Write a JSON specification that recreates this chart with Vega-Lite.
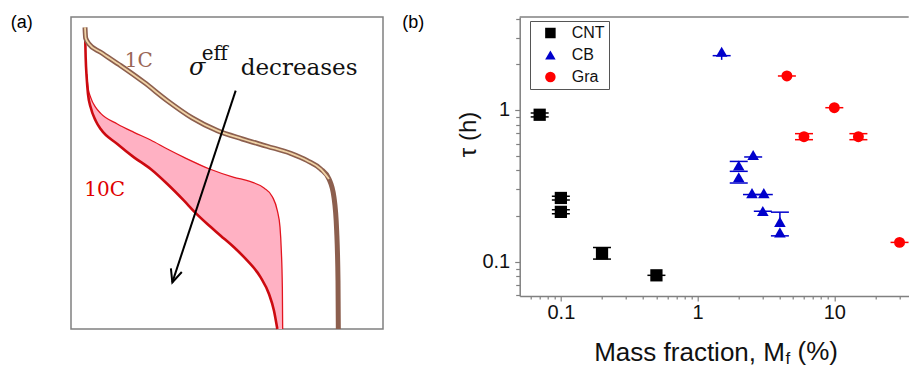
{
  "$schema": "https://vega.github.io/schema/vega-lite/v6.json",
  "background": "white",
  "padding": {"left": 10, "top": 13, "right": 0, "bottom": 0},
  "bounds": "flush",
  "spacing": 136.7,
  "resolve": {"scale": {"color": "independent", "shape": "independent", "fill": "independent", "stroke": "independent", "size": "independent"}},
  "config": {"view": {"stroke": null}, "axis": {"grid": false}},
  "datasets": {
    "curves": [
      {"c": "b", "i": 0, "u": 4.49, "v": 96.69},
      {"c": "b", "i": 1, "u": 4.70, "v": 93.27},
      {"c": "b", "i": 2, "u": 5.77, "v": 91.35},
      {"c": "b", "i": 3, "u": 9.51, "v": 88.68},
      {"c": "b", "i": 4, "u": 15.92, "v": 84.40},
      {"c": "b", "i": 5, "u": 23.40, "v": 79.06},
      {"c": "b", "i": 6, "u": 30.88, "v": 73.18},
      {"c": "b", "i": 7, "u": 38.89, "v": 67.63},
      {"c": "b", "i": 8, "u": 46.90, "v": 63.57},
      {"c": "b", "i": 9, "u": 54.91, "v": 60.90},
      {"c": "b", "i": 10, "u": 62.93, "v": 58.55},
      {"c": "b", "i": 11, "u": 70.41, "v": 56.30},
      {"c": "b", "i": 12, "u": 75.75, "v": 53.95},
      {"c": "b", "i": 13, "u": 80.02, "v": 51.28},
      {"c": "b", "i": 14, "u": 82.69, "v": 48.08},
      {"c": "b", "i": 15, "u": 84.29, "v": 42.20},
      {"c": "b", "i": 16, "u": 85.15, "v": 31.52},
      {"c": "b", "i": 17, "u": 85.58, "v": 15.49},
      {"c": "b", "i": 18, "u": 85.68, "v": 0},
      {"c": "r", "i": 0, "u": 4.49, "v": 96.15},
      {"c": "r", "i": 1, "u": 4.70, "v": 87.07},
      {"c": "r", "i": 2, "u": 5.02, "v": 80.66},
      {"c": "r", "i": 3, "u": 5.45, "v": 75.32},
      {"c": "r", "i": 4, "u": 6.30, "v": 71.05},
      {"c": "r", "i": 5, "u": 7.91, "v": 66.77},
      {"c": "r", "i": 6, "u": 9.51, "v": 64.10},
      {"c": "r", "i": 7, "u": 14.85, "v": 59.29},
      {"c": "r", "i": 8, "u": 20.19, "v": 55.02},
      {"c": "r", "i": 9, "u": 25.53, "v": 51.28},
      {"c": "r", "i": 10, "u": 30.88, "v": 46.47},
      {"c": "r", "i": 11, "u": 36.22, "v": 41.13},
      {"c": "r", "i": 12, "u": 39.74, "v": 37.39},
      {"c": "r", "i": 13, "u": 43.70, "v": 33.65},
      {"c": "r", "i": 14, "u": 47.97, "v": 29.91},
      {"c": "r", "i": 15, "u": 52.24, "v": 26.18},
      {"c": "r", "i": 16, "u": 56.52, "v": 21.90},
      {"c": "r", "i": 17, "u": 60.79, "v": 16.56},
      {"c": "r", "i": 18, "u": 63.46, "v": 11.22},
      {"c": "r", "i": 19, "u": 65.06, "v": 5.88},
      {"c": "r", "i": 20, "u": 66.13, "v": 0},
      {"c": "t", "i": 0, "u": 5.02, "v": 81.73},
      {"c": "t", "i": 1, "u": 5.45, "v": 77.46},
      {"c": "t", "i": 2, "u": 6.30, "v": 74.25},
      {"c": "t", "i": 3, "u": 7.91, "v": 71.05},
      {"c": "t", "i": 4, "u": 9.51, "v": 69.12},
      {"c": "t", "i": 5, "u": 14.85, "v": 65.71},
      {"c": "t", "i": 6, "u": 20.19, "v": 63.03},
      {"c": "t", "i": 7, "u": 25.53, "v": 60.58},
      {"c": "t", "i": 8, "u": 30.88, "v": 57.69},
      {"c": "t", "i": 9, "u": 36.22, "v": 55.02},
      {"c": "t", "i": 10, "u": 44.44, "v": 51.28},
      {"c": "t", "i": 11, "u": 52.24, "v": 48.61},
      {"c": "t", "i": 12, "u": 57.59, "v": 47.22},
      {"c": "t", "i": 13, "u": 61.86, "v": 45.19},
      {"c": "t", "i": 14, "u": 64.53, "v": 42.41},
      {"c": "t", "i": 15, "u": 66.13, "v": 37.93},
      {"c": "t", "i": 16, "u": 66.99, "v": 32.59},
      {"c": "t", "i": 17, "u": 67.41, "v": 25.11},
      {"c": "t", "i": 18, "u": 67.74, "v": 13.35},
      {"c": "t", "i": 19, "u": 67.84, "v": 0}
    ],
    "band": [
      {"u": 5.02, "top": 81.73, "bot": 80.9},
      {"u": 5.45, "top": 77.46, "bot": 75.32},
      {"u": 6.30, "top": 74.25, "bot": 71.05},
      {"u": 7.91, "top": 71.05, "bot": 66.77},
      {"u": 9.51, "top": 69.12, "bot": 64.10},
      {"u": 14.85, "top": 65.71, "bot": 59.29},
      {"u": 20.19, "top": 63.03, "bot": 55.02},
      {"u": 25.53, "top": 60.58, "bot": 51.28},
      {"u": 30.88, "top": 57.69, "bot": 46.47},
      {"u": 36.22, "top": 55.02, "bot": 41.13},
      {"u": 39.74, "top": 53.6, "bot": 37.39},
      {"u": 44.44, "top": 51.28, "bot": 32.8},
      {"u": 47.97, "top": 50.0, "bot": 29.91},
      {"u": 52.24, "top": 48.61, "bot": 26.18},
      {"u": 56.52, "top": 47.5, "bot": 21.90},
      {"u": 60.79, "top": 45.7, "bot": 16.56},
      {"u": 63.46, "top": 43.6, "bot": 11.22},
      {"u": 65.06, "top": 41.6, "bot": 5.88},
      {"u": 66.13, "top": 37.93, "bot": 0},
      {"u": 66.99, "top": 32.59, "bot": 0},
      {"u": 67.41, "top": 25.11, "bot": 0},
      {"u": 67.74, "top": 13.35, "bot": 0},
      {"u": 67.84, "top": 0, "bot": 0}
    ],
    "arrow": [{"u": 52.78, "v": 76.39, "u2": 32.48, "v2": 14.96}],
    "txtA": [
      {"t": "(a)", "u": -19.3, "v": 96.4},
      {"t": "(b)", "u": 106.2, "v": 96.4},
      {"t": "1C", "u": 21.7, "v": 84.1},
      {"t": "10C", "u": 10.8, "v": 42.5},
      {"t": "σ", "u": 37.8, "v": 81.3},
      {"t": "eff", "u": 41.9, "v": 86.3},
      {"t": "decreases", "u": 54.4, "v": 81.3}
    ],
    "pts": [
      {"m": "CNT", "x": 0.07, "y": 0.93, "ylo": 0.9, "yhi": 0.955, "c1": 0.9, "c2": 0.955},
      {"m": "CNT", "x": 0.1, "y": 0.263, "ylo": 0.255, "yhi": 0.27, "c1": 0.255, "c2": 0.27},
      {"m": "CNT", "x": 0.1, "y": 0.213, "ylo": 0.207, "yhi": 0.22, "c1": 0.207, "c2": 0.22},
      {"m": "CNT", "x": 0.2, "y": 0.1135, "ylo": 0.104, "yhi": 0.124, "c1": 0.104, "c2": 0.124},
      {"m": "CNT", "x": 0.5, "y": 0.0813, "c1": 0.0813},
      {"m": "CB", "x": 1.5, "y": 2.42, "ylo": 2.14, "yhi": 2.42, "c1": 2.28},
      {"m": "CB", "x": 2.55, "y": 0.505, "c1": 0.49},
      {"m": "CB", "x": 2.0, "y": 0.43, "c1": 0.458},
      {"m": "CB", "x": 2.0, "y": 0.36, "c1": 0.394, "c2": 0.33},
      {"m": "CB", "x": 2.5, "y": 0.283, "c1": 0.277},
      {"m": "CB", "x": 3.05, "y": 0.283, "c1": 0.277},
      {"m": "CB", "x": 3.0, "y": 0.216, "c1": 0.215},
      {"m": "CB", "x": 4.0, "y": 0.183, "ylo": 0.183, "yhi": 0.212, "c2": 0.212},
      {"m": "CB", "x": 4.0, "y": 0.156, "c1": 0.148},
      {"m": "Gra", "x": 4.5, "y": 1.675, "c1": 1.675},
      {"m": "Gra", "x": 10, "y": 1.035, "c1": 1.035},
      {"m": "Gra", "x": 6, "y": 0.667, "c1": 0.698, "c2": 0.637},
      {"m": "Gra", "x": 15, "y": 0.667, "c1": 0.698, "c2": 0.637},
      {"m": "Gra", "x": 30, "y": 0.134, "c1": 0.134}
    ],
    "txtB": [
      {"t": "f", "x": 4.40, "y": 0.02125},
      {"t": "(%)", "x": 5.38, "y": 0.0226}
    ],
    "edge": [{"top": 4.1}]
  },
  "hconcat": [
    {
      "width": 312,
      "height": 312,
      "view": {"stroke": "#808080", "strokeWidth": 1.5},
      "encoding": {
        "x": {"field": "u", "type": "quantitative", "scale": {"domain": [0, 100], "nice": false, "zero": false}, "axis": null},
        "y": {"field": "v", "type": "quantitative", "scale": {"domain": [0, 100], "nice": false, "zero": false}, "axis": null}
      },
      "layer": [
        {
          "data": {"name": "band"},
          "mark": {"type": "area", "interpolate": "monotone", "color": "#ffb1c3", "opacity": 1},
          "encoding": {
            "y": {"field": "top", "type": "quantitative", "scale": {"domain": [0, 100], "nice": false, "zero": false}, "axis": null},
            "y2": {"field": "bot"}
          }
        },
        {
          "data": {"name": "curves"},
          "transform": [{"filter": "datum.c === 't'"}],
          "mark": {"type": "line", "interpolate": "monotone", "color": "#e3151f", "strokeWidth": 1.3},
          "encoding": {"order": {"field": "i", "type": "quantitative"}}
        },
        {
          "data": {"name": "curves"},
          "transform": [{"filter": "datum.c === 'r'"}],
          "mark": {"type": "line", "interpolate": "monotone", "color": "#cc0a10", "strokeWidth": 2.6},
          "encoding": {"order": {"field": "i", "type": "quantitative"}}
        },
        {
          "data": {"name": "curves"},
          "transform": [{"filter": "datum.c === 'b'"}],
          "mark": {"type": "line", "interpolate": "monotone", "color": "#8c5f4e", "strokeWidth": 5},
          "encoding": {"order": {"field": "i", "type": "quantitative"}}
        },
        {
          "data": {"name": "curves"},
          "transform": [{"filter": "datum.c === 'b' && datum.i < 15"}],
          "mark": {"type": "line", "interpolate": "monotone", "color": "#f0d3a6", "strokeWidth": 1.8},
          "encoding": {"order": {"field": "i", "type": "quantitative"}}
        },
        {
          "data": {"name": "arrow"},
          "mark": {"type": "rule", "color": "black", "strokeWidth": 2},
          "encoding": {"x2": {"field": "u2"}, "y2": {"field": "v2"}}
        },
        {
          "data": {"name": "arrow"},
          "mark": {"type": "point", "shape": "M -0.45 1 L 0 0 L 0.45 1", "filled": false, "stroke": "black", "strokeWidth": 2, "size": 650, "angle": 198.3, "opacity": 1},
          "encoding": {
            "x": {"field": "u2", "type": "quantitative", "scale": {"domain": [0, 100], "nice": false, "zero": false}, "axis": null},
            "y": {"field": "v2", "type": "quantitative", "scale": {"domain": [0, 100], "nice": false, "zero": false}, "axis": null}
          }
        },
        {
          "data": {"name": "txtA"},
          "transform": [{"filter": "datum.t === '(a)' || datum.t === '(b)'"}],
          "mark": {"type": "text", "font": "Liberation Sans", "fontSize": 18, "align": "left", "baseline": "alphabetic", "color": "black"},
          "encoding": {"text": {"field": "t"}}
        },
        {
          "data": {"name": "txtA"},
          "transform": [{"filter": "datum.t === '1C'"}],
          "mark": {"type": "text", "font": "DejaVu Serif", "fontSize": 20, "align": "center", "baseline": "alphabetic", "color": "#9a6656"},
          "encoding": {"text": {"field": "t"}}
        },
        {
          "data": {"name": "txtA"},
          "transform": [{"filter": "datum.t === '10C'"}],
          "mark": {"type": "text", "font": "DejaVu Serif", "fontSize": 20, "align": "center", "baseline": "alphabetic", "color": "#e00000"},
          "encoding": {"text": {"field": "t"}}
        },
        {
          "data": {"name": "txtA"},
          "transform": [{"filter": "datum.t === 'σ'"}],
          "mark": {"type": "text", "font": "DejaVu Serif", "fontSize": 24, "fontStyle": "italic", "align": "left", "baseline": "alphabetic", "color": "#111111"},
          "encoding": {"text": {"field": "t"}}
        },
        {
          "data": {"name": "txtA"},
          "transform": [{"filter": "datum.t === 'eff'"}],
          "mark": {"type": "text", "font": "DejaVu Serif", "fontSize": 20, "align": "left", "baseline": "alphabetic", "color": "#111111"},
          "encoding": {"text": {"field": "t"}}
        },
        {
          "data": {"name": "txtA"},
          "transform": [{"filter": "datum.t === 'decreases'"}],
          "mark": {"type": "text", "font": "DejaVu Serif", "fontSize": 23, "align": "left", "baseline": "alphabetic", "color": "#111111"},
          "encoding": {"text": {"field": "t"}}
        }
      ]
    },
    {
      "width": 389,
      "height": 279,
      "view": {"stroke": null},
      "data": {"name": "pts"},
      "layer": [
        {
          "transform": [{"filter": "isValid(datum.ylo)"}],
          "mark": {"type": "rule", "strokeWidth": 1.5},
          "encoding": {
            "x": {"field": "x", "type": "quantitative", "scale": {"type": "log", "domain": [0.05, 35], "nice": false}},
            "y": {"field": "ylo", "type": "quantitative", "scale": {"type": "log", "domain": [0.0594, 4.1], "nice": false}},
            "y2": {"field": "yhi"},
            "stroke": {"field": "m", "type": "nominal", "scale": {"domain": ["Gra", "CB", "CNT"], "range": ["#ff0000", "#0000cc", "#000000"]}, "legend": null}
          }
        },
        {
          "transform": [{"filter": "isValid(datum.c1)"}],
          "mark": {"type": "tick", "orient": "horizontal", "size": 18, "thickness": 1.5, "opacity": 1},
          "encoding": {
            "x": {"field": "x", "type": "quantitative", "scale": {"type": "log", "domain": [0.05, 35], "nice": false}},
            "y": {"field": "c1", "type": "quantitative", "scale": {"type": "log", "domain": [0.0594, 4.1], "nice": false}},
            "fill": {"field": "m", "type": "nominal", "scale": {"domain": ["Gra", "CB", "CNT"], "range": ["#ff0000", "#0000cc", "#000000"]}, "legend": null}
          }
        },
        {
          "transform": [{"filter": "isValid(datum.c2)"}],
          "mark": {"type": "tick", "orient": "horizontal", "size": 18, "thickness": 1.5, "opacity": 1},
          "encoding": {
            "x": {"field": "x", "type": "quantitative", "scale": {"type": "log", "domain": [0.05, 35], "nice": false}},
            "y": {"field": "c2", "type": "quantitative", "scale": {"type": "log", "domain": [0.0594, 4.1], "nice": false}},
            "fill": {"field": "m", "type": "nominal", "scale": {"domain": ["Gra", "CB", "CNT"], "range": ["#ff0000", "#0000cc", "#000000"]}, "legend": null}
          }
        },
        {
          "mark": {"type": "point", "filled": true, "opacity": 1},
          "encoding": {
            "x": {
              "field": "x", "type": "quantitative",
              "scale": {"type": "log", "domain": [0.05, 35], "nice": false},
              "axis": {
                "values": [0.06, 0.07, 0.08, 0.09, 0.1, 0.2, 0.3, 0.4, 0.5, 0.6, 0.7, 0.8, 0.9, 1, 2, 3, 4, 5, 6, 7, 8, 9, 10, 20, 30],
                "labelExpr": "datum.value == 0.1 ? '0.1' : datum.value == 1 ? '1' : datum.value == 10 ? '10' : ''",
                "labelFont": "Liberation Sans", "labelColor": "#111111", "labelPadding": 1,
                "labelFontSize": {"condition": {"test": "datum.value == 0.1 || datum.value == 1 || datum.value == 10", "value": 20}, "value": 0},
                "labelOverlap": false, "labelFlush": false, "labelBound": false,
                "tickSize": {"condition": {"test": "datum.value == 0.1 || datum.value == 1 || datum.value == 10", "value": 5}, "value": 3},
                "tickColor": "#808080", "tickWidth": 1.2,
                "domainColor": "#808080", "domainWidth": 1.5,
                "title": "Mass fraction, M", "titleFont": "Liberation Sans", "titleFontSize": 26, "titleFontWeight": "normal",
                "titleColor": "#111111", "titleAlign": "left", "titleBaseline": "alphabetic", "titleX": 74, "titleY": 64
              }
            },
            "y": {
              "field": "y", "type": "quantitative",
              "scale": {"type": "log", "domain": [0.0594, 4.1], "nice": false},
              "axis": {
                "values": [0.06, 0.07, 0.08, 0.09, 0.1, 0.2, 0.3, 0.4, 0.5, 0.6, 0.7, 0.8, 0.9, 1, 2, 3, 4],
                "labelExpr": "datum.value == 0.1 ? '0.1' : datum.value == 1 ? '1' : ''",
                "labelFont": "Liberation Sans", "labelColor": "#111111", "labelPadding": 5,
                "labelFontSize": {"condition": {"test": "datum.value == 0.1 || datum.value == 1", "value": 20}, "value": 0},
                "labelOverlap": false, "labelFlush": false, "labelBound": false,
                "tickSize": {"condition": {"test": "datum.value == 0.1 || datum.value == 1", "value": 5}, "value": 4},
                "tickColor": "#808080", "tickWidth": 1.2,
                "domainColor": "#808080", "domainWidth": 1.5,
                "title": "τ (h)", "titleFont": "Liberation Sans", "titleFontSize": 24, "titleFontWeight": "normal",
                "titleColor": "#111111", "titleAlign": "center", "titleBaseline": "middle", "titleAngle": 270,
                "titleX": -51, "titleY": 117
              }
            },
            "size": {"field": "m", "type": "nominal", "scale": {"domain": ["Gra", "CB", "CNT"], "range": [120, 150, 105]}, "legend": null},
            "color": {
              "field": "m", "type": "nominal",
              "scale": {"domain": ["CNT", "CB", "Gra"], "range": ["#000000", "#0000cc", "#ff0000"]},
              "legend": {"orient": "none", "legendX": 10.3, "legendY": 4, "title": null, "labelFont": "Liberation Sans", "labelFontSize": 16, "labelColor": "#111111", "symbolSize": 110, "padding": 4, "symbolOffset": 8.4, "labelOffset": 13.3, "rowPadding": 6, "strokeColor": "#555555", "fillColor": "white", "cornerRadius": 0, "symbolStrokeWidth": 0}
            },
            "shape": {
              "field": "m", "type": "nominal",
              "scale": {"domain": ["CNT", "CB", "Gra"], "range": ["square", "triangle-up", "circle"]},
              "legend": {"orient": "none", "legendX": 10.3, "legendY": 4, "title": null, "labelFont": "Liberation Sans", "labelFontSize": 16, "labelColor": "#111111", "symbolSize": 110, "padding": 4, "symbolOffset": 8.4, "labelOffset": 13.3, "rowPadding": 6, "strokeColor": "#555555", "fillColor": "white", "cornerRadius": 0, "symbolStrokeWidth": 0}
            }
          }
        },
        {
          "data": {"name": "edge"},
          "mark": {"type": "rule", "color": "#808080", "strokeWidth": 1.5},
          "encoding": {
            "y": {"field": "top", "type": "quantitative", "scale": {"type": "log", "domain": [0.0594, 4.1], "nice": false}}
          }
        },
        {
          "data": {"name": "txtB"},
          "transform": [{"filter": "datum.t === 'f'"}],
          "mark": {"type": "text", "font": "Liberation Sans", "fontSize": 17, "align": "left", "baseline": "alphabetic", "color": "#111111"},
          "encoding": {
            "x": {"field": "x", "type": "quantitative", "scale": {"type": "log", "domain": [0.05, 35], "nice": false}},
            "y": {"field": "y", "type": "quantitative", "scale": {"type": "log", "domain": [0.0594, 4.1], "nice": false}},
            "text": {"field": "t"}
          }
        },
        {
          "data": {"name": "txtB"},
          "transform": [{"filter": "datum.t === '(%)'"}],
          "mark": {"type": "text", "font": "Liberation Sans", "fontSize": 26, "align": "left", "baseline": "alphabetic", "color": "#111111"},
          "encoding": {
            "x": {"field": "x", "type": "quantitative", "scale": {"type": "log", "domain": [0.05, 35], "nice": false}},
            "y": {"field": "y", "type": "quantitative", "scale": {"type": "log", "domain": [0.0594, 4.1], "nice": false}},
            "text": {"field": "t"}
          }
        }
      ]
    }
  ]
}
